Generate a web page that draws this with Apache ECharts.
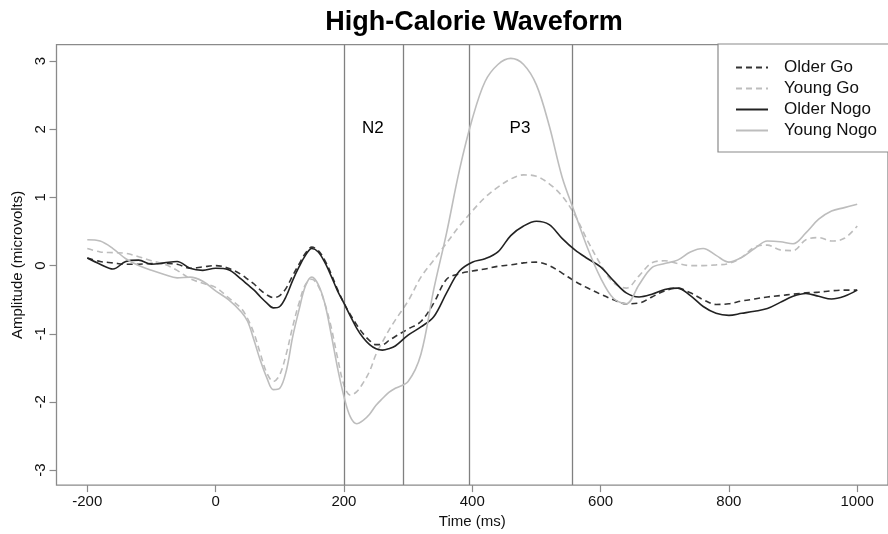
<!DOCTYPE html>
<html>
<head>
<meta charset="utf-8">
<script src="https://cdn.jsdelivr.net/npm/echarts@6/dist/echarts.min.js"></script>
<style>html,body{margin:0;padding:0;background:#fff}#c{width:888px;height:534px}</style>
</head>
<body>
<div id="c"></div>
<script>
// time points (ms)
var times = [-200,-180,-160,-140,-120,-100,-80,-60,-40,-20,0,20,40,
  50,60,70,80,90,100,110,120,130,140,150,160,170,180,190,200,210,220,230,240,250,260,270,280,
  300,320,340,360,380,400,420,440,460,480,500,520,540,560,580,600,620,640,660,680,700,720,740,760,780,800,820,840,860,880,900,920,940,960,980,1000];

var olderGo = [0.11,0.06,0.04,0.02,0.02,0.03,0.03,0.02,-0.04,-0.02,0.0,-0.04,-0.13,
  -0.2,-0.27,-0.36,-0.43,-0.47,-0.44,-0.33,-0.15,0.02,0.18,0.27,0.22,0.08,-0.12,-0.35,-0.55,-0.72,-0.87,-1.0,-1.1,-1.16,-1.16,-1.1,-1.04,
  -0.93,-0.82,-0.55,-0.2,-0.12,-0.08,-0.05,-0.01,0.01,0.04,0.05,0.0,-0.11,-0.23,-0.33,-0.42,-0.5,-0.56,-0.55,-0.46,-0.37,-0.33,-0.4,-0.5,-0.57,-0.56,-0.52,-0.49,-0.46,-0.44,-0.42,-0.4,-0.39,-0.37,-0.36,-0.36];

var youngGo = [0.25,0.2,0.19,0.18,0.13,0.07,0.02,-0.07,-0.19,-0.26,-0.32,-0.47,-0.63,
  -0.78,-1.0,-1.3,-1.58,-1.7,-1.6,-1.3,-0.9,-0.55,-0.28,-0.2,-0.3,-0.55,-0.9,-1.35,-1.75,-1.9,-1.85,-1.72,-1.55,-1.3,-1.12,-0.95,-0.8,
  -0.52,-0.17,0.08,0.33,0.58,0.8,1.0,1.15,1.27,1.33,1.31,1.2,1.02,0.74,0.36,0.02,-0.25,-0.33,-0.15,0.04,0.07,0.03,0.0,0.0,0.01,0.03,0.12,0.27,0.3,0.23,0.22,0.38,0.41,0.36,0.4,0.58];

var olderNogo = [0.11,0.02,-0.05,0.06,0.08,0.02,0.04,0.06,-0.04,-0.07,-0.04,-0.06,-0.2,
  -0.28,-0.36,-0.46,-0.55,-0.62,-0.6,-0.45,-0.22,-0.02,0.15,0.25,0.2,0.05,-0.15,-0.37,-0.55,-0.74,-0.92,-1.06,-1.16,-1.22,-1.24,-1.22,-1.18,
  -1.02,-0.9,-0.75,-0.4,-0.08,0.05,0.1,0.2,0.44,0.58,0.65,0.6,0.4,0.23,0.1,-0.02,-0.22,-0.4,-0.46,-0.42,-0.35,-0.33,-0.44,-0.6,-0.7,-0.73,-0.7,-0.67,-0.63,-0.54,-0.45,-0.41,-0.45,-0.49,-0.45,-0.36];

var youngNogo = [0.38,0.36,0.25,0.1,0.0,-0.07,-0.13,-0.18,-0.17,-0.23,-0.37,-0.5,-0.68,
  -0.82,-1.1,-1.4,-1.65,-1.82,-1.8,-1.55,-1.05,-0.65,-0.3,-0.17,-0.28,-0.55,-1.0,-1.5,-1.92,-2.22,-2.32,-2.27,-2.18,-2.05,-1.95,-1.86,-1.8,
  -1.7,-1.3,-0.35,0.48,1.4,2.15,2.7,2.95,3.04,2.95,2.65,2.05,1.3,0.77,0.25,-0.18,-0.48,-0.56,-0.28,-0.03,0.03,0.08,0.2,0.25,0.15,0.05,0.12,0.25,0.36,0.35,0.32,0.48,0.68,0.8,0.85,0.9];

var seriesNames = ['Older Go','Young Go','Older Nogo','Young Nogo'];
var windowMarkers = [200, 293, 396, 556];
var windowLabels = ['N2', 'P3'];
var windowLabelLevel = 2;
var xTicks = [-200, 0, 200, 400, 600, 800, 1000];
var yTicks = [-3, -2, -1, 0, 1, 2, 3];

function pairs(vals){ return times.map(function(t,i){ return [t, vals[i]]; }); }

var FONT = 'Liberation Sans, Arial, Helvetica, sans-serif';
var chart = echarts.init(document.getElementById('c'), null, {renderer:'canvas'});

var labelData = [
  {value:[(windowMarkers[0]+windowMarkers[1])/2, windowLabelLevel], name:windowLabels[0]},
  {value:[(windowMarkers[2]+windowMarkers[3])/2, windowLabelLevel], name:windowLabels[1]}
];

var styles = [
  {color:'#333333', type:[6,4], width:1.6},
  {color:'#bdbdbd', type:[6,4], width:1.6},
  {color:'#222222', type:'solid', width:1.6},
  {color:'#bdbdbd', type:'solid', width:1.6}
];
var dataSets = [olderGo, youngGo, olderNogo, youngNogo];

var series = dataSets.map(function(d, i){
  return {
    name: seriesNames[i], type:'line', data: pairs(d), smooth: 0.35,
    symbol:'none', showSymbol:false, z: 3 + i,
    lineStyle: styles[i], itemStyle:{color: styles[i].color},
    animation:false
  };
});
series.unshift({
  name:'markers', type:'line', data:[], symbol:'none', z:2, animation:false,
  markLine:{
    silent:true, symbol:['none','none'], animation:false,
    label:{show:false},
    lineStyle:{color:'#808080', width:1.3, type:'solid'},
    data: windowMarkers.map(function(m){ return {xAxis:m}; })
  }
});
series.push({
  name:'labels', type:'scatter', data: labelData, symbol:'circle', symbolSize:2, z:10, animation:false,
  silent:true,
  itemStyle:{color:'#fff', opacity:0},
  label:{show:true, position:[0,0], align:'center', verticalAlign:'middle', formatter:'{b}',
    fontSize:17, color:'#000', opacity:1, textBorderWidth:0, fontFamily:FONT}
});

function plain(v){ return String(v); }

chart.setOption({
  backgroundColor:'#fff',
  animation:false,
  graphic:[{
    type:'text', x:474, y:23, z:100,
    style:{text:'High-Calorie Waveform', textAlign:'center', textVerticalAlign:'middle',
      font:'bold 27px ' + FONT, fill:'#000'}
  }],
  grid:{left:56.5, right:-5.7, top:44.7, bottom:47.3, show:true, borderColor:'#8a8a8a', borderWidth:1.3, backgroundColor:'transparent'},
  legend:{
    data: seriesNames, orient:'vertical', left:718, top:44,
    padding:[13, 14, 11, 17], itemWidth:32, itemHeight:14, itemGap:0,
    backgroundColor:'#fff', borderColor:'#8a8a8a', borderWidth:1.2,
    itemStyle:{opacity:0},
    textStyle:{fontSize:17, lineHeight:21, color:'#111', fontFamily:FONT, padding:[0,0,0,11]},
    selectedMode:false, z:50
  },
  xAxis:{
    type:'value', min:-248, max:1048,
    name:'Time (ms)', nameLocation:'middle', nameGap:27,
    nameTextStyle:{fontSize:15, color:'#111', fontFamily:FONT},
    axisLine:{show:false, onZero:false}, splitLine:{show:false},
    axisTick:{show:true, length:7, lineStyle:{color:'#8a8a8a', width:1.2}, customValues:xTicks},
    axisLabel:{fontSize:15, color:'#111', fontFamily:FONT, margin:9, customValues:xTicks, formatter:plain}
  },
  yAxis:{
    type:'value', min:-3.22, max:3.24,
    name:'Amplitude (microvolts)', nameLocation:'middle', nameGap:31, nameRotate:90,
    nameTextStyle:{fontSize:15, color:'#111', fontFamily:FONT},
    axisLine:{show:false, onZero:false}, splitLine:{show:false},
    axisTick:{show:true, length:7, lineStyle:{color:'#8a8a8a', width:1.2}, customValues:yTicks},
    axisLabel:{fontSize:15, color:'#111', fontFamily:FONT, margin:8, rotate:90, customValues:yTicks, formatter:plain}
  },
  series: series
});
</script>
</body>
</html>
